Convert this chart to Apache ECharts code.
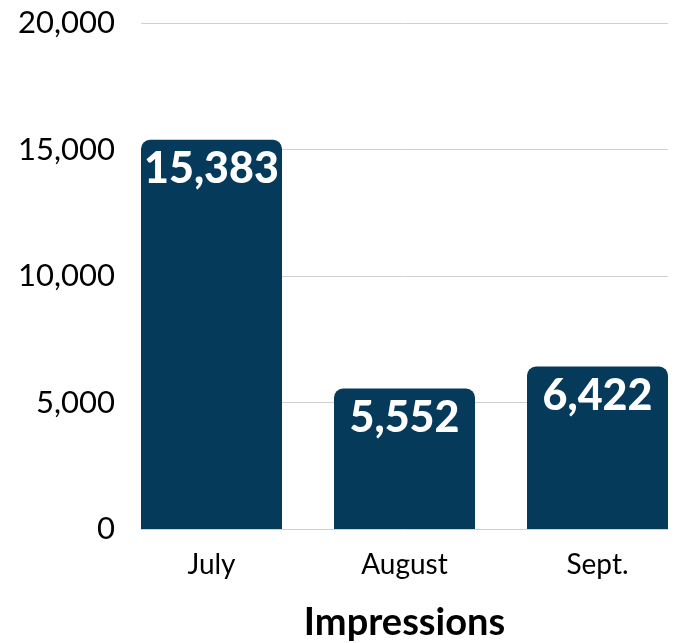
<!DOCTYPE html>
<html>
<head>
<meta charset="utf-8">
<script src="https://cdn.jsdelivr.net/npm/echarts@6/dist/echarts.min.js"></script>
<style>
html,body{margin:0;padding:0;background:#fff;}
#chart{width:681px;height:643px;}
</style>
</head>
<body>
<div id="chart"></div>
<script>
const categories = ['July', 'August', 'Sept.'];
const impressions = [15383, 5552, 6422];
const axisTitle = 'Impressions';
const yMin = 0, yMax = 20000, yStep = 5000;

const FONT = 'Lato, "Open Sans", sans-serif';
const fmt = v => Number(v).toLocaleString('en-US');

const chart = echarts.init(document.getElementById('chart'), null, {renderer: 'canvas'});
chart.setOption({
  backgroundColor: '#ffffff',
  animation: false,
  grid: [
    {left: 141, width: 527, top: 23, bottom: 114, containLabel: false, outerBoundsMode: 'none'},
    {left: 115, width: 579, top: 23, bottom: 114, containLabel: false, outerBoundsMode: 'none'}
  ],
  xAxis: [
    {gridIndex: 0, type: 'category', data: categories, show: false},
    {
      gridIndex: 1, type: 'category', data: categories,
      axisLine: {show: false}, axisTick: {show: false},
      axisLabel: {color: '#000', fontSize: 28, fontFamily: FONT, margin: 22},
      name: axisTitle, nameLocation: 'middle', nameGap: 75,
      nameTextStyle: {color: '#000', fontSize: 38, fontWeight: 'bold', fontFamily: FONT}
    }
  ],
  yAxis: [
    {
      gridIndex: 0, type: 'value', min: yMin, max: yMax, interval: yStep,
      axisLine: {show: false}, axisTick: {show: false},
      axisLabel: {color: '#000', fontSize: 31, fontFamily: FONT, margin: 26, formatter: fmt},
      splitLine: {show: true, lineStyle: {color: '#d0d0d0', width: 1}}
    },
    {gridIndex: 1, type: 'value', min: yMin, max: yMax, interval: yStep, show: false}
  ],
  series: [{
    type: 'bar',
    xAxisIndex: 1, yAxisIndex: 1,
    data: impressions,
    barWidth: 141,
    itemStyle: {color: '#063a5a', borderRadius: [9, 9, 0, 0]},
    label: {
      show: true, position: 'insideTop', distance: 8,
      color: '#fff', fontSize: 43, fontWeight: 900, fontFamily: FONT,
      formatter: p => fmt(p.value)
    }
  }]
});
</script>
</body>
</html>
